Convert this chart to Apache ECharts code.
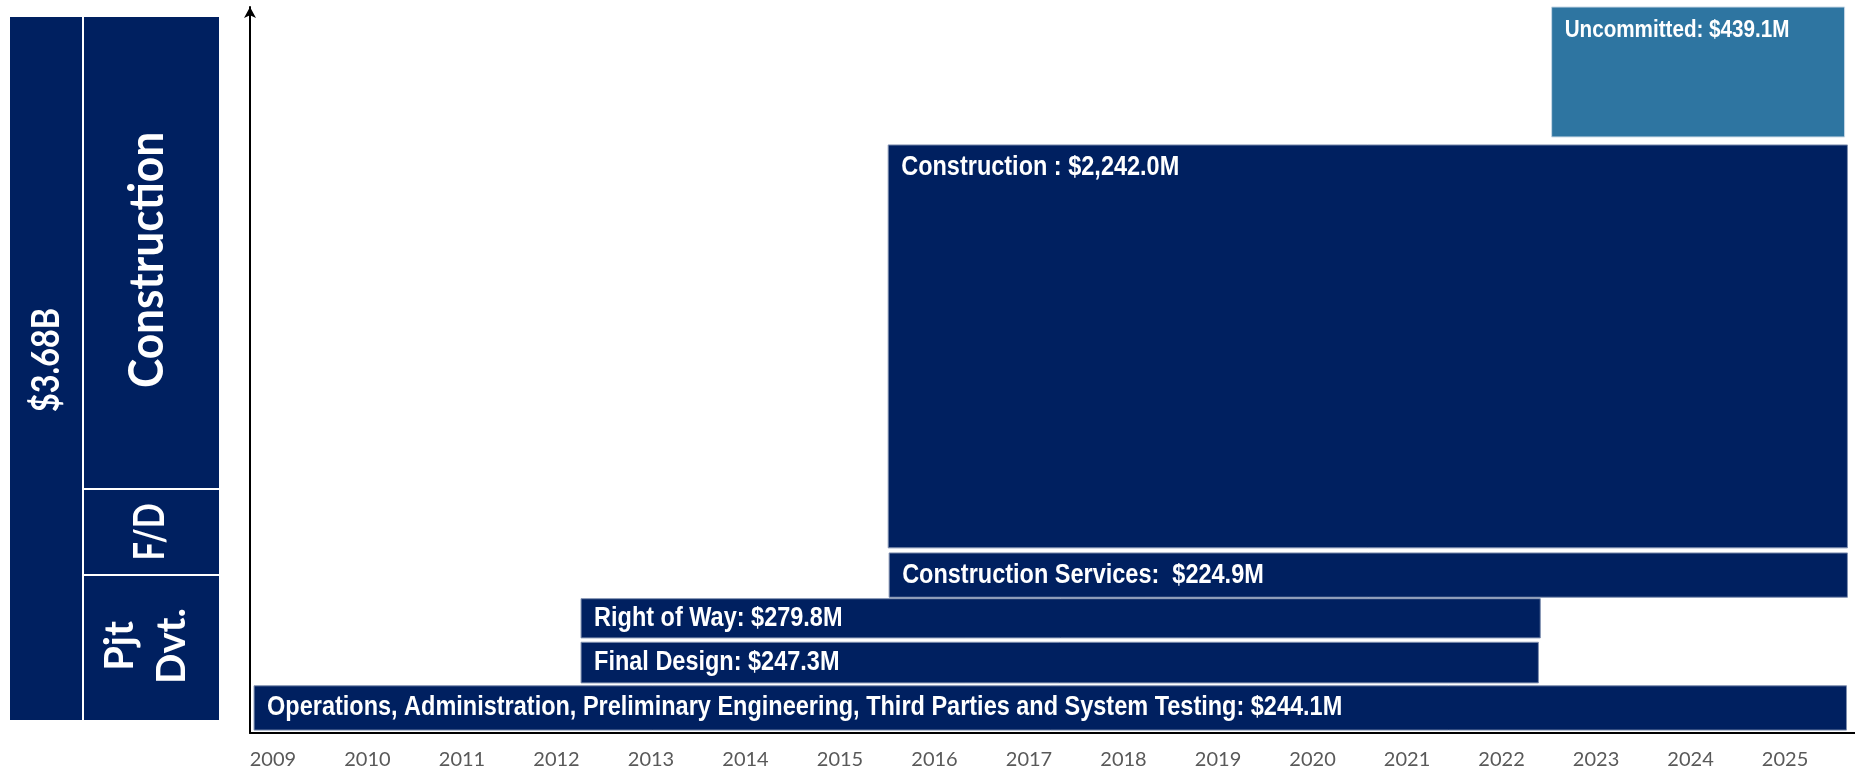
<!DOCTYPE html>
<html>
<head>
<meta charset="utf-8">
<script src="https://cdn.jsdelivr.net/npm/echarts@6/dist/echarts.min.js"></script>
<style>
  html, body { margin: 0; padding: 0; background: #fff; }
  #chart { width: 1855px; height: 774px; }
</style>
</head>
<body>
<div id="chart"></div>
<script>
// budget phases
const names = [
  'Operations, Administration, Preliminary Engineering, Third Parties and System Testing: ',
  'Final Design: ',
  'Right of Way: ',
  'Construction Services:  ',
  'Construction : ',
  'Uncommitted: '
];
const amountsM = [244.1, 247.3, 279.8, 224.9, 2242.0, 439.1];
const committed = [true, true, true, true, true, false];
// time span of each block (fractional years)
const startYear = [2008.8, 2012.26, 2012.26, 2015.52, 2015.51, 2022.53];
const endYear = [2025.65, 2022.39, 2022.41, 2025.66, 2025.66, 2025.63];
// vertical band of each block on a 0-100 scale
const bandLow = [0.4, 6.9, 13.1, 18.7, 25.5, 82.1];
const bandHigh = [6.5, 12.5, 18.5, 24.8, 81.0, 100];
const years = [2009, 2010, 2011, 2012, 2013, 2014, 2015, 2016, 2017, 2018, 2019, 2020, 2021, 2022, 2023, 2024, 2025];

const navy = '#002060';
const lightBlue = '#2E75A1';
const arial = "'Liberation Sans', Arial, sans-serif";
const boxFam = "Lato, 'Open Sans', sans-serif";

let total = amountsM.reduce((a, b) => a + b, 0);

function money(v) {
  return '$' + v.toLocaleString('en-US', { minimumFractionDigits: 1, maximumFractionDigits: 1 }) + 'M';
}

let data = names.map((n, i) => [startYear[i], endYear[i], bandLow[i], bandHigh[i], i]);

function renderItem(params, api) {
  let i = api.value(4);
  let p0 = api.coord([api.value(0), api.value(3)]);
  let p1 = api.coord([api.value(1), api.value(2)]);
  let x = p0[0], y = p0[1];
  let w = p1[0] - p0[0], h = p1[1] - p0[1];
  let isCommitted = committed[i];
  return {
    type: 'group',
    children: [{
      type: 'rect',
      shape: { x: x, y: y, width: w, height: h },
      style: { fill: isCommitted ? navy : lightBlue, stroke: isCommitted ? '#8090b0' : '#c8d8e6', lineWidth: 1 }
    }, {
      // narrow bold look: Arial-like font squeezed sideways
      type: 'text',
      x: x + 13,
      y: y + Math.min(23, h / 2),
      scaleX: isCommitted ? 0.87 : 0.86,
      style: {
        text: names[i] + money(amountsM[i]),
        fill: '#fff',
        font: (isCommitted ? 'bold 27px ' : 'bold 24px ') + arial,
        verticalAlign: 'middle',
        align: 'left'
      }
    }]
  };
}

const chart = echarts.init(document.getElementById('chart'), null, { renderer: 'canvas' });

function boxText(txt, x, y, size, sx) {
  return {
    type: 'text', x: x, y: y, rotation: Math.PI / 2, scaleX: sx,
    style: { text: txt, font: 'bold ' + size + 'px ' + boxFam, fill: '#fff', align: 'center', verticalAlign: 'middle', lineHeight: 52 }
  };
}

let option = {
  backgroundColor: '#fff',
  animation: false,
  grid: { left: 250, right: 0, top: 7, bottom: 41, containLabel: false, outerBoundsMode: 'none' },
  xAxis: {
    type: 'value',
    min: 2008.757,
    max: 2025.74,
    axisLine: { show: true, onZero: false, lineStyle: { color: '#000', width: 2 } },
    axisTick: { show: false },
    splitLine: { show: false },
    axisLabel: {
      customValues: years,
      color: '#595959',
      fontSize: 20,
      fontFamily: 'Lato, sans-serif',
      margin: 17,
      formatter: v => String(v)
    }
  },
  yAxis: {
    type: 'value',
    min: 0,
    max: 100,
    axisLine: {
      show: true, onZero: false,
      symbol: ['none', 'arrow'], symbolSize: [9, 11],
      lineStyle: { color: '#000', width: 2 }
    },
    axisTick: { show: false },
    axisLabel: { show: false },
    splitLine: { show: false }
  },
  series: [{
    type: 'custom',
    renderItem: renderItem,
    encode: { x: [0, 1], y: [2, 3] },
    data: data
  }],
  // summary box on the left
  graphic: [
    { type: 'rect', shape: { x: 10, y: 17, width: 72, height: 703 }, style: { fill: navy } },
    { type: 'rect', shape: { x: 84, y: 17, width: 135, height: 471 }, style: { fill: navy } },
    { type: 'rect', shape: { x: 84, y: 490, width: 135, height: 84 }, style: { fill: navy } },
    { type: 'rect', shape: { x: 84, y: 576, width: 135, height: 144 }, style: { fill: navy } },
    boxText('$' + (total / 1000).toFixed(2) + 'B', 47, 360, 38, 0.85),
    boxText('Construction', 148, 260, 48, 0.92),
    boxText('F/D', 150, 532, 42, 0.78),
    boxText('Pjt\nDvt.', 146, 646, 40, 1)
  ]
};

chart.setOption(option);
</script>
</body>
</html>
